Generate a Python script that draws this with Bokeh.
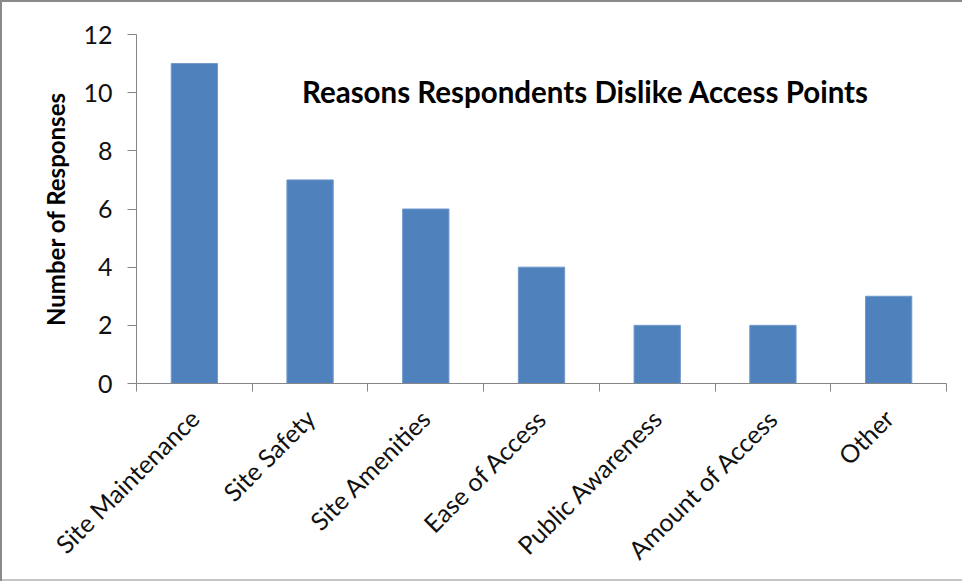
import math
from bokeh.plotting import figure
from bokeh.models import FixedTicker, Label, Range1d
from bokeh.embed import file_html
from bokeh.resources import INLINE

categories = ["Site Maintenance", "Site Safety", "Site Amenities", "Ease of Access",
              "Public Awareness", "Amount of Access", "Other"]
responses = [11, 7, 6, 4, 2, 2, 3]
y_ticks = [0, 2, 4, 6, 8, 10, 12]
title_text = "Reasons Respondents Dislike Access Points"
y_label = "Number of Responses"

n = len(categories)
positions = list(range(n))
boundaries = [i - 0.5 for i in range(n + 1)]

FONT = "Lato"
AXIS_GRAY = "#868686"

W, H = 962, 581
p = figure(width=W, height=H,
           x_range=Range1d(-0.5, n - 0.5), y_range=Range1d(0, 12),
           output_backend="svg", toolbar_location=None,
           min_border_left=136, min_border_right=W - 946,
           min_border_top=34, min_border_bottom=H - 383)
p.styles = {"background-color": "white",
            "box-shadow": "inset 2px 0 0 #8a8a8a, inset 0 2px 0 #8a8a8a, inset 0 -2px 0 #c4c4c4"}
p.outline_line_color = None
p.xgrid.visible = False
p.ygrid.visible = False
p.background_fill_color = "white"
p.border_fill_color = None

p.vbar(x=positions, top=responses, width=0.4,
       fill_color="#4F81BD", line_color="#6F98CC", line_width=1)

# y axis
ya = p.yaxis[0]
ya.ticker = FixedTicker(ticks=y_ticks)
ya.axis_line_color = AXIS_GRAY
ya.major_tick_line_color = AXIS_GRAY
ya.minor_tick_line_color = None
ya.major_tick_in = 0
ya.major_tick_out = 9
ya.major_label_standoff = 15
ya.major_label_text_font = FONT
ya.major_label_text_font_size = "25px"
ya.major_label_text_color = "#111111"
ya.axis_label = y_label
ya.axis_label_text_font = FONT
ya.axis_label_text_font_size = "24px"
ya.axis_label_text_font_style = "bold"
ya.axis_label_text_color = "black"
ya.axis_label_standoff = 10

# x axis
xa = p.xaxis[0]
xa.ticker = FixedTicker(ticks=positions, minor_ticks=boundaries)
xa.major_label_overrides = {i: c for i, c in zip(positions, categories)}
xa.axis_line_color = AXIS_GRAY
xa.major_tick_line_color = None
xa.major_tick_in = 0
xa.major_tick_out = 0
xa.minor_tick_line_color = AXIS_GRAY
xa.minor_tick_in = 0
xa.minor_tick_out = 8
xa.major_label_orientation = math.pi / 4
xa.major_label_standoff = 22
xa.major_label_text_font = FONT
xa.major_label_text_font_size = "25px"
xa.major_label_text_color = "#111111"

p.add_layout(Label(x=3.38, y=10.04, text=title_text, text_align="center",
                   text_baseline="middle", text_font=FONT, text_font_size="29.5px",
                   text_font_style="bold", text_color="black"))

open("out.html", "w").write(file_html(p, INLINE))
